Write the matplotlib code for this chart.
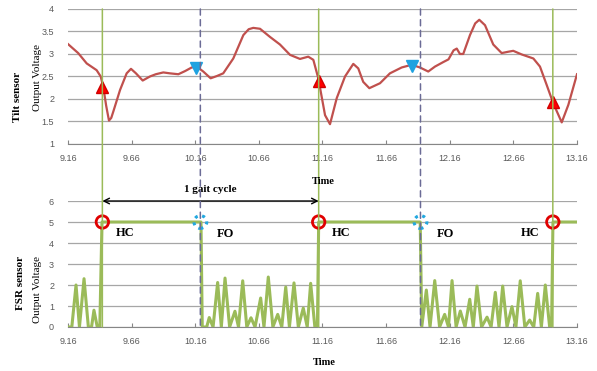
import matplotlib.pyplot as plt
from matplotlib.patches import ConnectionPatch

# tilt sensor trace (time, volts)
tilt_t = [9.16, 9.24, 9.307, 9.385, 9.417, 9.437, 9.46, 9.482, 9.50, 9.516, 9.569, 9.621,
          9.655, 9.694, 9.747, 9.804, 9.85, 9.909, 9.96, 10.027, 10.08, 10.132, 10.171,
          10.223, 10.281, 10.33, 10.38, 10.459, 10.538, 10.58, 10.616, 10.669, 10.747,
          10.826, 10.905, 10.983, 11.048, 11.088, 11.127, 11.18, 11.219, 11.272, 11.337,
          11.402, 11.441, 11.48, 11.528, 11.612, 11.69, 11.782, 11.861, 11.926, 11.991,
          12.044, 12.109, 12.15, 12.19, 12.215, 12.24, 12.266, 12.319, 12.36, 12.392,
          12.437, 12.502, 12.568, 12.62, 12.659, 12.725, 12.817, 12.869, 12.922, 12.974,
          13.04, 13.092, 13.16]
tilt_v = [3.22, 3.02, 2.79, 2.64, 2.50, 2.27, 1.85, 1.52, 1.58, 1.72, 2.20, 2.57,
          2.67, 2.57, 2.41, 2.50, 2.55, 2.59, 2.57, 2.55, 2.62, 2.70, 2.72,
          2.61, 2.46, 2.51, 2.57, 2.90, 3.42, 3.55, 3.58, 3.56, 3.38,
          3.21, 2.98, 2.89, 2.94, 2.87, 2.46, 1.64, 1.44, 2.02, 2.50,
          2.78, 2.68, 2.38, 2.24, 2.35, 2.57, 2.70, 2.76, 2.70, 2.61,
          2.72, 2.82, 2.88, 3.08, 3.12, 3.00, 3.00, 3.42, 3.68, 3.76,
          3.64, 3.21, 3.02, 3.05, 3.07, 2.99, 2.90, 2.72, 2.31, 1.90,
          1.48, 1.87, 2.55]

# FSR sensor trace (time, volts)
fsr_t = [9.16, 9.19, 9.223, 9.25, 9.286, 9.32, 9.345, 9.364, 9.39, 9.41, 9.427,
         10.205, 10.215, 10.25, 10.27, 10.30, 10.336, 10.365, 10.394, 10.43, 10.472,
         10.50, 10.533, 10.565, 10.598, 10.63, 10.674, 10.70, 10.734, 10.77, 10.808,
         10.84, 10.871, 10.90, 10.936, 10.97, 11.009, 11.04, 11.067, 11.10, 11.12, 11.13,
         11.928, 11.94, 11.976, 12.005, 12.042, 12.08, 12.12, 12.15, 12.178, 12.21,
         12.243, 12.28, 12.317, 12.345, 12.374, 12.41, 12.453, 12.485, 12.518, 12.547,
         12.576, 12.61, 12.649, 12.68, 12.714, 12.75, 12.788, 12.82, 12.851, 12.88,
         12.911, 12.945, 12.96, 12.971, 13.16]
fsr_v = [0, 0, 2.0, 0, 2.3, 0, 0, 0.8, 0, 0, 5,
         5, 0, 0, 0.45, 0, 2.12, 0, 2.33, 0, 0.75,
         0, 2.2, 0, 0.44, 0, 1.38, 0, 2.38, 0, 0.6,
         0, 1.9, 0, 2.1, 0, 0.9, 0, 2.08, 0, 0, 5,
         5, 0, 1.76, 0, 2.21, 0, 0.6, 0, 2.21, 0,
         0.76, 0, 1.32, 0, 1.95, 0, 0.47, 0, 1.65, 0,
         1.95, 0, 0.97, 0, 2.2, 0, 0.33, 0, 1.6, 0,
         2.0, 0, 0, 5, 5]

# gait events
hc_t = [9.43, 11.13, 12.97]
hc_tilt = [2.27, 2.40, 1.94]
fo_t = [10.2, 11.93]
fo_tilt_t = [10.166, 11.863]
fo_tilt = [2.68, 2.74]
fsr_level = 5

xticks = [9.16, 9.66, 10.16, 10.66, 11.16, 11.66, 12.16, 12.66, 13.16]

serif = 'Liberation Serif'
grey = '#595959'

fig = plt.figure(figsize=(5.97, 3.71), dpi=100)
ax1 = fig.add_axes([0.1139, 0.6119, 0.8526, 0.3639])
ax2 = fig.add_axes([0.1139, 0.1186, 0.8526, 0.3396])

for ax in (ax1, ax2):
    ax.set_xlim(9.16, 13.16)
    ax.set_xticks(xticks)
    ax.set_xticklabels([f'{x:.2f}' for x in xticks], fontsize=6.5, color=grey,
                       family='Liberation Sans')
    ax.tick_params(axis='x', direction='in', length=3, color='#868686', pad=7)
    ax.tick_params(axis='y', length=0, labelsize=6.5, labelcolor=grey, pad=10)
    for s in ('top', 'left', 'right'):
        ax.spines[s].set_visible(False)
    ax.spines['bottom'].set_color('#868686')
    ax.grid(axis='y', color='#A6A6A6', lw=0.9)
    ax.set_axisbelow(True)

ax1.set_ylim(1, 4)
ax1.set_yticks([1, 1.5, 2, 2.5, 3, 3.5, 4])
ax1.set_yticklabels(['1', '1.5', '2', '2.5', '3', '3.5', '4'], family='Liberation Sans')
ax2.set_ylim(0, 6)
ax2.set_yticks(range(7))
ax2.set_yticklabels([str(i) for i in range(7)], family='Liberation Sans')

# event lines spanning both panels
for t in hc_t:
    fig.add_artist(ConnectionPatch((t, 4), (t, 0), 'data', 'data', axesA=ax1, axesB=ax2,
                                   color='#9BBB59', lw=1.1, zorder=1))
for t in fo_t:
    fig.add_artist(ConnectionPatch((t, 4), (t, 0), 'data', 'data', axesA=ax1, axesB=ax2,
                                   color='#6B6B96', lw=1.1, ls=(0, (4, 3)), zorder=1))

ax1.plot(tilt_t, tilt_v, color='#C0504D', lw=1.6, zorder=3)
ax1.plot(hc_t, hc_tilt, ls='none', marker='^', ms=8.5, mfc='#FF0000', mec='#D00000', zorder=4)
ax1.plot(fo_tilt_t, fo_tilt, ls='none', marker='v', ms=8.5, mfc='#1FA2E0', mec='#1FA2E0', zorder=4)

ax2.plot(fsr_t, fsr_v, color='#9BBB59', lw=2.2, zorder=3)
ax2.scatter(hc_t, [fsr_level] * len(hc_t), s=80, facecolors='none', edgecolors='#E00000',
            linewidths=2, zorder=4, clip_on=False)
ax2.scatter(fo_t, [fsr_level] * len(fo_t), s=85, facecolors='none', edgecolors='#22A8E0',
            linewidths=2.2, linestyle=(0, (1, 1.5)), zorder=4, clip_on=False)

ax2.annotate('', xy=(hc_t[0], 6), xytext=(hc_t[1], 6),
             arrowprops=dict(arrowstyle='<->', color='black', lw=1, shrinkA=0, shrinkB=0),
             annotation_clip=False)
ax2.text((hc_t[0] + hc_t[1]) / 2, 6.35, '1 gait cycle', ha='center', va='bottom',
         family=serif, fontweight='bold', fontsize=8)

for t in hc_t[:2]:
    ax2.text(t + 0.18, 4.5, 'HC', ha='center', va='center', family=serif,
             fontweight='bold', fontsize=9)
ax2.text(hc_t[2] - 0.18, 4.5, 'HC', ha='center', va='center', family=serif,
         fontweight='bold', fontsize=9)
for t in fo_t:
    ax2.text(t + 0.2, 4.45, 'FO', ha='center', va='center', family=serif,
             fontweight='bold', fontsize=9)

fig.text(0.030, 0.74, 'Tilt sensor', rotation=90, ha='center', va='center',
         family=serif, fontweight='bold', fontsize=8)
fig.text(0.062, 0.79, 'Output Voltage', rotation=90, ha='center', va='center',
         family=serif, fontsize=8)
fig.text(0.034, 0.237, 'FSR sensor', rotation=90, ha='center', va='center',
         family=serif, fontweight='bold', fontsize=8)
fig.text(0.062, 0.221, 'Output Voltage', rotation=90, ha='center', va='center',
         family=serif, fontsize=8)
fig.text(0.541, 0.512, 'Time', ha='center', va='center', family=serif,
         fontweight='bold', fontsize=7.5)
fig.text(0.543, 0.022, 'Time', ha='center', va='center', family=serif,
         fontweight='bold', fontsize=7.5)

fig.savefig('out.png', dpi=100)
